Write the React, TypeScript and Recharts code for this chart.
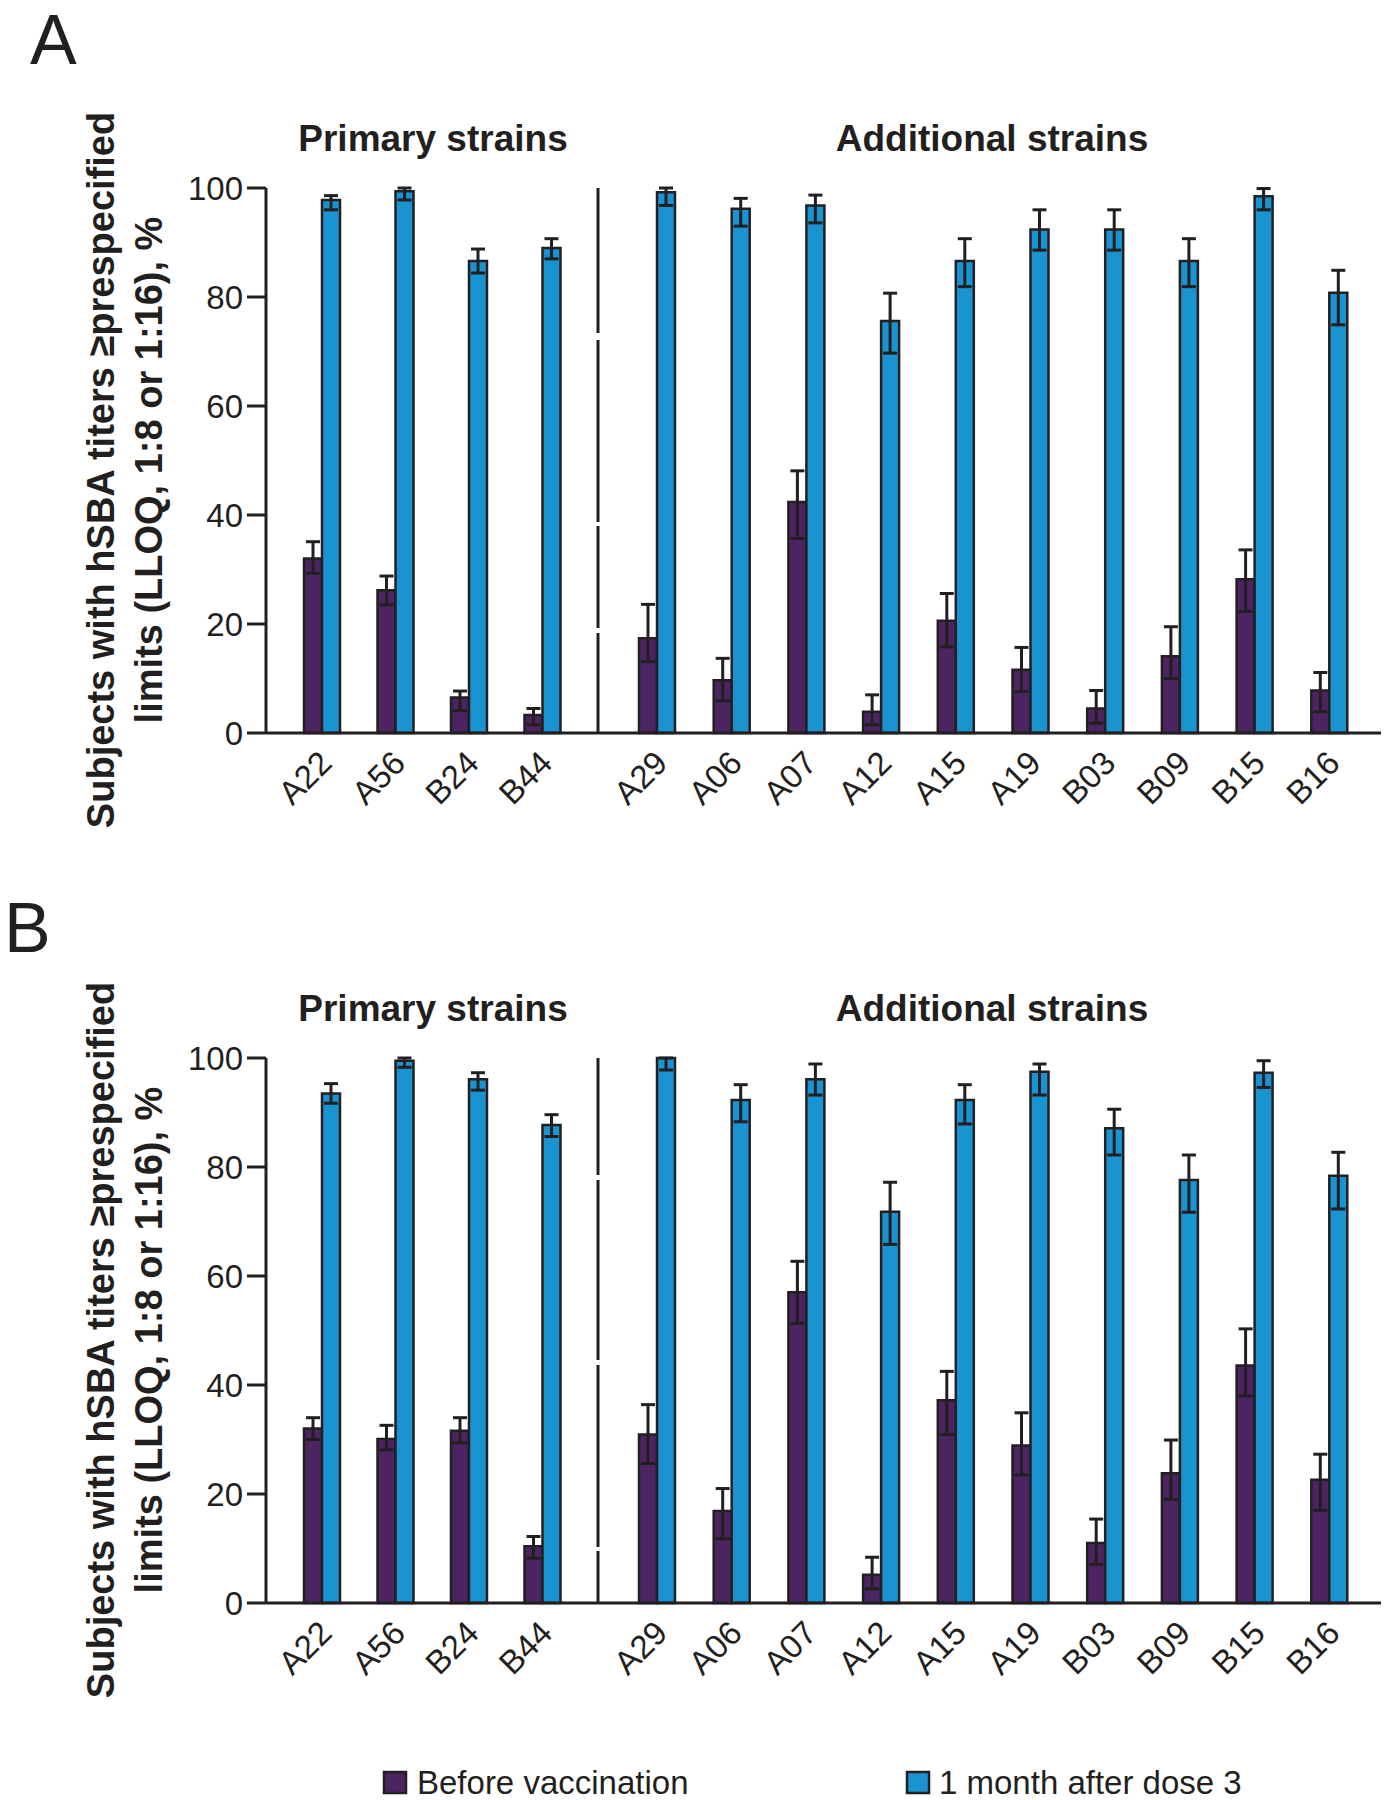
import { BarChart, Bar, XAxis, YAxis, ErrorBar } from 'recharts'

// strains
const primaryStrains = ['A22', 'A56', 'B24', 'B44']
const additionalStrains = ['A29', 'A06', 'A07', 'A12', 'A15', 'A19', 'B03', 'B09', 'B15', 'B16']
const yTicks = [0, 20, 40, 60, 80, 100]

// panel A — % with titers >= LLOQ, with 95% CI
const preA_primary = [32.0, 26.2, 6.5, 3.3]
const preA_primaryLo = [29.3, 23.5, 4.1, 1.5]
const preA_primaryHi = [35.1, 28.8, 7.7, 4.5]
const postA_primary = [97.8, 99.4, 86.6, 89.0]
const postA_primaryLo = [96.0, 97.8, 84.4, 87.0]
const postA_primaryHi = [98.6, 100, 88.8, 90.7]

const preA_additional = [17.4, 9.7, 42.4, 3.9, 20.6, 11.6, 4.5, 14.1, 28.2, 7.8]
const preA_additionalLo = [13.1, 5.9, 35.7, 1.5, 15.8, 7.6, 1.8, 10.0, 22.3, 3.9]
const preA_additionalHi = [23.6, 13.7, 48.1, 7.0, 25.6, 15.7, 7.8, 19.5, 33.6, 11.1]
const postA_additional = [99.2, 96.2, 96.8, 75.6, 86.6, 92.4, 92.4, 86.6, 98.5, 80.8]
const postA_additionalLo = [96.8, 93.0, 93.6, 69.7, 81.9, 88.6, 88.6, 81.9, 96.0, 74.9]
const postA_additionalHi = [100, 98.1, 98.7, 80.7, 90.7, 96.0, 96.0, 90.7, 99.9, 84.9]

// panel B
const preB_primary = [32.0, 30.1, 31.6, 10.4]
const preB_primaryLo = [30.0, 28.1, 29.4, 8.2]
const preB_primaryHi = [34.0, 32.6, 34.0, 12.2]
const postB_primary = [93.5, 99.5, 96.1, 87.7]
const postB_primaryLo = [91.7, 98.3, 94.1, 85.6]
const postB_primaryHi = [95.3, 100, 97.3, 89.6]

const preB_additional = [30.9, 16.9, 57.0, 5.2, 37.2, 28.9, 11.0, 23.8, 43.6, 22.6]
const preB_additionalLo = [25.6, 11.8, 51.3, 2.6, 30.9, 23.5, 7.1, 19.0, 38.0, 17.0]
const preB_additionalHi = [36.4, 21.0, 62.7, 8.4, 42.5, 34.9, 15.4, 29.9, 50.3, 27.3]
const postB_additional = [100, 92.3, 96.1, 71.8, 92.3, 97.5, 87.1, 77.6, 97.3, 78.4]
const postB_additionalLo = [97.8, 88.3, 93.2, 65.8, 87.9, 93.2, 82.2, 71.7, 94.6, 72.3]
const postB_additionalHi = [100, 95.1, 98.9, 77.2, 95.1, 98.9, 90.6, 82.2, 99.5, 82.7]

const PURPLE = '#4b2461'
const BLUE = '#1a93d1'
const INK = '#231f20'
const FONT = '"Liberation Sans", Arial, Helvetica, sans-serif'

const CHART_TOP_MARGIN = 40
const PLOT_H = 545
const XAXIS_H = 110

function buildRows(
  strains: string[],
  pre: number[], preLo: number[], preHi: number[],
  post: number[], postLo: number[], postHi: number[],
) {
  return strains.map((strain, i) => ({
    strain,
    pre: pre[i],
    preErr: [pre[i] - preLo[i], preHi[i] - pre[i]],
    post: post[i],
    postErr: [post[i] - postLo[i], postHi[i] - post[i]],
  }))
}

function StrainTick({ x, y, payload }: any) {
  return (
    <g transform={`translate(${x + 12},${y + 32}) rotate(-45)`}>
      <text x={0} y={0} textAnchor="end" fill={INK} fontSize={33} fontFamily={FONT}>
        {payload.value}
      </text>
    </g>
  )
}

function bars() {
  return [
    <Bar key="pre" dataKey="pre" fill={PURPLE} stroke={INK} strokeWidth={2.5} barSize={18} isAnimationActive={false}>
      <ErrorBar dataKey="preErr" width={7} strokeWidth={3} stroke={INK} />
    </Bar>,
    <Bar key="post" dataKey="post" fill={BLUE} stroke={INK} strokeWidth={2.5} barSize={18} isAnimationActive={false}>
      <ErrorBar dataKey="postErr" width={7} strokeWidth={3} stroke={INK} />
    </Bar>,
  ]
}

interface PanelProps {
  plotTop: number
  primaryRows: ReturnType<typeof buildRows>
  additionalRows: ReturnType<typeof buildRows>
  dividerDash: string
}

function Panel({ plotTop, primaryRows, additionalRows, dividerDash }: PanelProps) {
  const chartTop = plotTop - CHART_TOP_MARGIN
  const chartH = CHART_TOP_MARGIN + PLOT_H + XAXIS_H
  return (
    <>
      {/* primary strains, with the value axis */}
      <div style={{ position: 'absolute', left: 0, top: chartTop }}>
        <BarChart
          width={598}
          height={chartH}
          data={primaryRows}
          margin={{ top: CHART_TOP_MARGIN, right: 0, bottom: 0, left: 0 }}
          barGap={0}
        >
          <XAxis
            dataKey="strain"
            height={XAXIS_H}
            padding={{ left: 19, right: 19 }}
            tickLine={false}
            tickSize={0}
            tickMargin={0}
            axisLine={{ stroke: INK, strokeWidth: 3 }}
            tick={<StrainTick />}
            interval={0}
          />
          <YAxis
            domain={[0, 100]}
            ticks={yTicks}
            width={266}
            tickSize={19}
            tickMargin={4}
            axisLine={{ stroke: INK, strokeWidth: 3 }}
            tickLine={{ stroke: INK, strokeWidth: 3 }}
            tick={{ fill: INK, fontSize: 33, fontFamily: FONT }}
          />
          {bars()}
        </BarChart>
      </div>
      {/* additional strains, its left axis line is the divider */}
      <div style={{ position: 'absolute', left: 588, top: chartTop }}>
        <BarChart
          width={793}
          height={chartH}
          data={additionalRows}
          margin={{ top: CHART_TOP_MARGIN, right: 0, bottom: 0, left: 0 }}
          barGap={0}
        >
          <XAxis
            dataKey="strain"
            height={XAXIS_H}
            padding={{ left: 22, right: 14 }}
            tickLine={false}
            tickSize={0}
            tickMargin={0}
            axisLine={{ stroke: INK, strokeWidth: 3 }}
            tick={<StrainTick />}
            interval={0}
          />
          <YAxis
            domain={[0, 100]}
            ticks={yTicks}
            width={10}
            tick={false}
            tickLine={false}
            axisLine={{ stroke: INK, strokeWidth: 3, strokeDasharray: dividerDash }}
          />
          {bars()}
        </BarChart>
      </div>
    </>
  )
}

function PanelText({ plotTop, letter, letterX, letterY }: { plotTop: number; letter: string; letterX: number; letterY: number }) {
  const labelY = plotTop + 282
  return (
    <g fontFamily={FONT} fill={INK}>
      <text x={letterX} y={letterY} fontSize={70}>{letter}</text>
      <text x={433} y={plotTop - 37} textAnchor="middle" fontSize={37} fontWeight="bold">Primary strains</text>
      <text x={992} y={plotTop - 37} textAnchor="middle" fontSize={37} fontWeight="bold">Additional strains</text>
      <text transform={`translate(114,${labelY}) rotate(-90)`} textAnchor="middle" fontSize={38} fontWeight="bold">
        Subjects with hSBA titers ≥prespecified
      </text>
      <text transform={`translate(162,${labelY}) rotate(-90)`} textAnchor="middle" fontSize={38} fontWeight="bold">
        limits (LLOQ, 1:8 or 1:16), %
      </text>
    </g>
  )
}

export default function App() {
  const rowsA1 = buildRows(primaryStrains, preA_primary, preA_primaryLo, preA_primaryHi, postA_primary, postA_primaryLo, postA_primaryHi)
  const rowsA2 = buildRows(additionalStrains, preA_additional, preA_additionalLo, preA_additionalHi, postA_additional, postA_additionalLo, postA_additionalHi)
  const rowsB1 = buildRows(primaryStrains, preB_primary, preB_primaryLo, preB_primaryHi, postB_primary, postB_primaryLo, postB_primaryHi)
  const rowsB2 = buildRows(additionalStrains, preB_additional, preB_additionalLo, preB_additionalHi, postB_additional, postB_additionalLo, postB_additionalHi)

  return (
    <div
      style={{
        position: 'absolute',
        left: 0,
        top: 0,
        width: 1388,
        height: 1800,
        background: '#fff',
        overflow: 'hidden',
        fontFamily: FONT,
      }}
    >
      <Panel plotTop={188} primaryRows={rowsA1} additionalRows={rowsA2} dividerDash="145 7 182 4 102 5 300" />
      <Panel plotTop={1058} primaryRows={rowsB1} additionalRows={rowsB2} dividerDash="117 5 180 5 182 4 300" />

      <svg width={1388} height={1800} style={{ position: 'absolute', left: 0, top: 0, pointerEvents: 'none' }}>
        <PanelText plotTop={188} letter="A" letterX={30} letterY={64} />
        <PanelText plotTop={1058} letter="B" letterX={4} letterY={952} />

        {/* legend */}
        <g fontFamily={FONT} fill={INK} fontSize={33}>
          <rect x={384} y={1772} width={22} height={21} fill={PURPLE} stroke={INK} strokeWidth={2.5} />
          <text x={417} y={1794}>Before vaccination</text>
          <rect x={907} y={1772} width={22} height={21} fill={BLUE} stroke={INK} strokeWidth={2.5} />
          <text x={939} y={1794}>1 month after dose 3</text>
        </g>
      </svg>
    </div>
  )
}
